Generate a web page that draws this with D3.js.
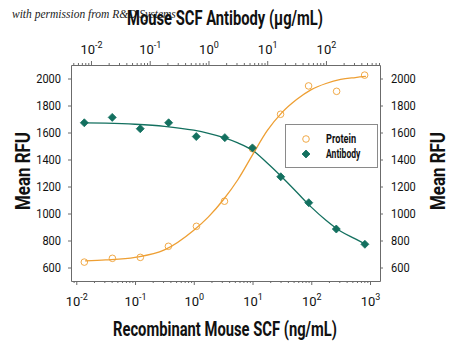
<!DOCTYPE html>
<html>
<head>
<meta charset="utf-8">
<script src="https://cdn.jsdelivr.net/npm/d3@7/dist/d3.min.js"></script>
<style>
  html, body { margin: 0; padding: 0; background: #fff; }
  svg { display: block; }
  .cond { font-family: "Roboto", "Open Sans", "Liberation Sans", sans-serif; }
</style>
</head>
<body>
<svg id="chart" width="450" height="345"></svg>
<script>
// ---- data ----
const proteinConc = [0.0137, 0.0412, 0.123, 0.370, 1.11, 3.33, 10, 30, 90, 270, 810]; // ng/mL
const proteinRFU  = [640, 668, 675, 757, 905, 1091, 1480, 1735, 1945, 1905, 2025];
const antibodyConc = [0.0077, 0.023, 0.069, 0.21, 0.62, 1.9, 5.6, 17, 51, 150, 460]; // µg/mL
const antibodyRFU  = [1672, 1712, 1628, 1672, 1570, 1562, 1486, 1272, 1080, 885, 772];

// fitted curves (log10 of concentration, RFU)
const proteinFitLog = [-1.85, -1.5, -1.0, -0.5, 0, 0.25, 0.5, 0.75, 1.0, 1.25, 1.5, 1.75, 2.0, 2.25, 2.5, 2.75, 2.93];
const proteinFitRFU = [649, 656, 675, 730, 876, 975, 1100, 1250, 1434, 1613, 1747, 1844, 1918, 1963, 1993, 2007, 2015];
const antibodyFitLog = [-2.1, -1.75, -1.25, -0.75, -0.25, 0, 0.25, 0.5, 0.75, 1.0, 1.25, 1.5, 1.75, 2.0, 2.25, 2.5, 2.68];
const antibodyFitRFU = [1672, 1669, 1661, 1646, 1617, 1594, 1564, 1523, 1468, 1374, 1270, 1159, 1047, 950, 868, 812, 771];

const yTicks = [600, 800, 1000, 1200, 1400, 1600, 1800, 2000];
const legendLabels = ["Protein", "Antibody"];

const orange = "#EE9F33";
const teal = "#13705F";
const axisColor = "#6b6b6b";

// ---- layout ----
const L = 71, R = 380, T = 65, B = 281;
const svg = d3.select("#chart");

const xB = d3.scaleLog().domain([Math.pow(10, -2.09), Math.pow(10, 3.17)]).range([L, R]);
const xT = d3.scaleLog().domain([Math.pow(10, -2.34), Math.pow(10, 2.92)]).range([L, R]);
const y = d3.scaleLinear().domain([500, 2100]).range([B, T]);

function logTicks(scale) {
  const [d0, d1] = scale.domain();
  const vals = [];
  for (let e = Math.floor(Math.log10(d0)) - 1; e <= Math.ceil(Math.log10(d1)); e++) {
    for (let m = 1; m <= 9; m++) {
      const v = m * Math.pow(10, e);
      if (v >= d0 && v <= d1) vals.push(v);
    }
  }
  return vals;
}
function isMajor(v) {
  const l = Math.log10(v);
  return Math.abs(l - Math.round(l)) < 1e-9;
}
function condense(sel, perChar) {
  sel.each(function() {
    const t = d3.select(this);
    const n = t.text().length;
    t.attr("textLength", n * perChar).attr("lengthAdjust", "spacingAndGlyphs");
  });
}

function styleLogAxis(g, dir) {
  g.select(".domain").attr("stroke", axisColor);
  g.selectAll(".tick line").attr("stroke", axisColor)
    .attr("y2", d => (isMajor(d) ? 4 : 2) * (dir === "bottom" ? 1 : -1));
  g.selectAll(".tick text").filter(d => !isMajor(d)).remove();
  g.selectAll(".tick text").each(function(d) {
    const t = d3.select(this);
    t.text(null);
    const e = Math.round(Math.log10(d));
    t.attr("class", "cond").attr("font-size", 13).attr("fill", "#111");
    t.append("tspan").text("10");
    t.append("tspan").attr("dy", -6).attr("font-size", 9).text(String(e));
  });
}

// bottom axis
const gB = svg.append("g").attr("transform", `translate(0,${B})`)
  .call(d3.axisBottom(xB).tickValues(logTicks(xB)).tickSizeOuter(0).tickFormat(d => ""));
styleLogAxis(gB, "bottom");
gB.selectAll(".tick text").attr("y", 25).attr("dy", 0);

// top axis
const gT = svg.append("g").attr("transform", `translate(0,${T})`)
  .call(d3.axisTop(xT).tickValues(logTicks(xT)).tickSizeOuter(0).tickFormat(d => ""));
styleLogAxis(gT, "top");
gT.selectAll(".tick text").attr("y", -11).attr("dy", 0);

// left axis
const gL = svg.append("g").attr("transform", `translate(${L},0)`)
  .call(d3.axisLeft(y).tickValues(yTicks).tickSize(3).tickSizeOuter(0).tickPadding(7).tickFormat(d3.format("d")));
gL.select(".domain").attr("stroke", axisColor);
gL.selectAll(".tick line").attr("stroke", axisColor);
gL.selectAll(".tick text").attr("class", "cond").attr("font-size", 13.5).attr("fill", "#111").call(condense, 6.2);

// right axis
const gR = svg.append("g").attr("transform", `translate(${R},0)`)
  .call(d3.axisRight(y).tickValues(yTicks).tickSize(3).tickSizeOuter(0).tickPadding(8).tickFormat(d3.format("d")));
gR.select(".domain").attr("stroke", axisColor);
gR.selectAll(".tick line").attr("stroke", axisColor);
gR.selectAll(".tick text").attr("class", "cond").attr("font-size", 13.5).attr("fill", "#111").call(condense, 6.2);

svg.selectAll(".domain").attr("stroke-width", 1);

// ---- curves ----
const protLine = d3.line()
  .x((d, i) => xB(Math.pow(10, proteinFitLog[i])))
  .y((d, i) => y(proteinFitRFU[i]))
  .curve(d3.curveMonotoneX);
svg.append("path").attr("d", protLine(proteinFitLog))
  .attr("fill", "none").attr("stroke", orange).attr("stroke-width", 1.3);

const abLine = d3.line()
  .x((d, i) => xT(Math.pow(10, antibodyFitLog[i])))
  .y((d, i) => y(antibodyFitRFU[i]))
  .curve(d3.curveMonotoneX);
svg.append("path").attr("d", abLine(antibodyFitLog))
  .attr("fill", "none").attr("stroke", teal).attr("stroke-width", 1.3);

// ---- points ----
svg.append("g").selectAll("circle").data(proteinConc).join("circle")
  .attr("cx", d => xB(d)).attr("cy", (d, i) => y(proteinRFU[i])).attr("r", 3.3)
  .attr("fill", "none").attr("stroke", orange).attr("stroke-width", 0.9);

const diamond = "M0,-4L4,0L0,4L-4,0Z";
svg.append("g").selectAll("path").data(antibodyConc).join("path")
  .attr("d", diamond)
  .attr("transform", (d, i) => `translate(${xT(d)},${y(antibodyRFU[i])})`)
  .attr("fill", teal).attr("stroke", teal).attr("stroke-width", 0.8).attr("stroke-linejoin", "round");

// ---- legend ----
const lg = svg.append("g");
lg.append("rect").attr("x", 285.5).attr("y", 124.5).attr("width", 92).attr("height", 43)
  .attr("fill", "#fff").attr("stroke", "#8a8a8a").attr("stroke-width", 1);
lg.append("circle").attr("cx", 306).attr("cy", 139).attr("r", 3.3)
  .attr("fill", "none").attr("stroke", orange).attr("stroke-width", 0.9);
lg.append("path").attr("d", diamond).attr("transform", "translate(306,154)")
  .attr("fill", teal).attr("stroke", teal).attr("stroke-width", 0.8);
lg.selectAll("text").data(legendLabels).join("text")
  .attr("class", "cond").attr("x", 326).attr("y", (d, i) => 143 + i * 15)
  .attr("font-size", 12).attr("font-weight", "bold").attr("fill", "#111").text(d => d)
  .call(condense, 4.3);

// ---- titles ----
svg.append("text").attr("x", 12).attr("y", 18)
  .attr("font-family", "'Liberation Serif', 'DejaVu Serif', serif").attr("font-style", "italic")
  .attr("font-size", 11.5).attr("fill", "#222").text("with permission from R&D Systems");

svg.append("text").attr("class", "cond").attr("x", 225).attr("y", 25).attr("text-anchor", "middle")
  .attr("font-size", 20).attr("font-weight", "bold").attr("fill", "#111")
  .attr("textLength", 196).attr("lengthAdjust", "spacingAndGlyphs")
  .text("Mouse SCF Antibody (\u00b5g/mL)");

svg.append("text").attr("class", "cond").attr("x", 225).attr("y", 336).attr("text-anchor", "middle")
  .attr("font-size", 20).attr("font-weight", "bold").attr("fill", "#111")
  .attr("textLength", 224).attr("lengthAdjust", "spacingAndGlyphs")
  .text("Recombinant Mouse SCF (ng/mL)");

svg.append("text").attr("class", "cond").attr("transform", `translate(30,${(T + B) / 2 - 2}) rotate(-90)`)
  .attr("text-anchor", "middle").attr("font-size", 20).attr("font-weight", "bold").attr("fill", "#111")
  .attr("textLength", 78).attr("lengthAdjust", "spacingAndGlyphs")
  .text("Mean RFU");
svg.append("text").attr("class", "cond").attr("transform", `translate(445,${(T + B) / 2 - 2}) rotate(-90)`)
  .attr("text-anchor", "middle").attr("font-size", 20).attr("font-weight", "bold").attr("fill", "#111")
  .attr("textLength", 78).attr("lengthAdjust", "spacingAndGlyphs")
  .text("Mean RFU");
</script>
</body>
</html>
